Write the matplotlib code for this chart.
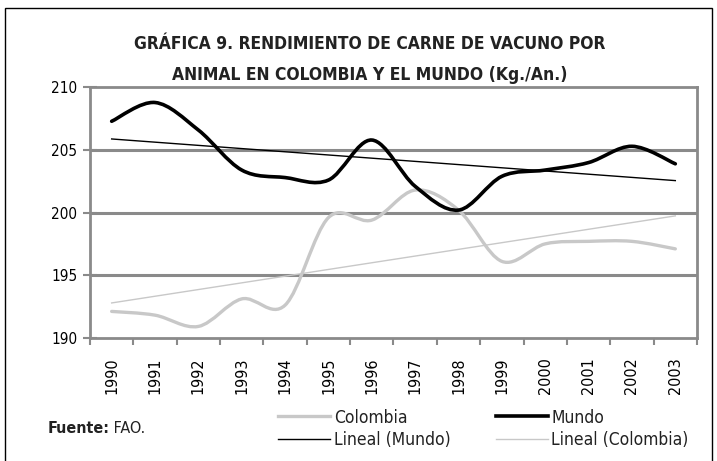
import numpy as np
import matplotlib
matplotlib.use('Agg')
import matplotlib.pyplot as plt
from matplotlib.path import Path
from matplotlib.patches import PathPatch, Rectangle
from matplotlib.lines import Line2D

years = ['1990', '1991', '1992', '1993', '1994', '1995', '1996',
         '1997', '1998', '1999', '2000', '2001', '2002', '2003']
mundo = [207.3, 208.8, 206.6, 203.4, 202.8, 202.6, 205.8,
         202.1, 200.2, 202.9, 203.4, 204.0, 205.3, 203.9]
colombia = [192.1, 191.8, 190.9, 193.1, 192.6, 199.6, 199.4,
            201.8, 200.2, 196.1, 197.5, 197.7, 197.7, 197.1]

plt.rcParams['font.family'] = ['Liberation Sans Narrow', 'DejaVu Sans']
plt.rcParams['font.stretch'] = 'condensed'
plt.rcParams['text.color'] = '#222222'


def smooth_path(x, y):
    # excel-like smoothed line: catmull-rom segments as cubic beziers
    x = np.asarray(x, float)
    y = np.asarray(y, float)
    verts = [(x[0], y[0])]
    codes = [Path.MOVETO]
    n = len(x)
    for i in range(n - 1):
        p0 = (x[max(i - 1, 0)], y[max(i - 1, 0)])
        p1 = (x[i], y[i])
        p2 = (x[i + 1], y[i + 1])
        p3 = (x[min(i + 2, n - 1)], y[min(i + 2, n - 1)])
        t = 1 / 6
        c1 = (p1[0] + (p2[0] - p0[0]) * t, p1[1] + (p2[1] - p0[1]) * t)
        c2 = (p2[0] - (p3[0] - p1[0]) * t, p2[1] - (p3[1] - p1[1]) * t)
        verts += [c1, c2, p2]
        codes += [Path.CURVE4] * 3
    return Path(verts, codes)


fig = plt.figure(figsize=(7.17, 4.61), dpi=100)
ax = fig.add_axes([0.1255, 0.2675, 0.8466, 0.5427])

x = np.arange(len(years))
grid_c = '#8a8a8a'
col_c = '#c8c8c8'

for v in [195, 200, 205]:
    ax.axhline(v, color=grid_c, lw=2.2, zorder=1)

# trend lines
pm = np.polyfit(x, mundo, 1)
pc = np.polyfit(x, colombia, 1)
ax.plot([x[0], x[-1]], np.polyval(pc, [x[0], x[-1]]), color=col_c, lw=1.0, zorder=2)
ax.plot([x[0], x[-1]], np.polyval(pm, [x[0], x[-1]]), color='black', lw=1.0, zorder=3)

ax.add_patch(PathPatch(smooth_path(x, colombia), fill=False, edgecolor=col_c, lw=2.4,
                       zorder=3, capstyle='round'))
ax.add_patch(PathPatch(smooth_path(x, mundo), fill=False, edgecolor='black', lw=2.6,
                       zorder=4, capstyle='round'))

ax.set_xlim(-0.5, len(years) - 0.5)
ax.set_ylim(190, 210)
ax.set_yticks([190, 195, 200, 205, 210])
ax.set_yticklabels(['190', '195', '200', '205', '210'], fontsize=11)
ax.set_xticks(x)
ax.set_xticklabels(years, rotation=90, fontsize=11.5)
ax.set_xticks(np.arange(-0.5, len(years)), minor=True)
ax.tick_params(axis='x', which='major', length=0, pad=14)
ax.tick_params(axis='x', which='minor', length=5, width=1.5, color=grid_c)
ax.tick_params(axis='y', direction='inout', length=10, width=1.5, color=grid_c, pad=4)
for s in ax.spines.values():
    s.set_color(grid_c)
    s.set_linewidth(2)

fig.text(0.516, 0.905, 'GRÁFICA 9. RENDIMIENTO DE CARNE DE VACUNO POR',
         ha='center', va='center', fontsize=12.5, fontweight='bold')
fig.text(0.516, 0.838, 'ANIMAL EN COLOMBIA Y EL MUNDO (Kg./An.)',
         ha='center', va='center', fontsize=12.5, fontweight='bold')

src = fig.text(0.066, 0.07, 'Fuente:', fontsize=11.5, fontweight='bold', va='center')
ax.annotate(' FAO.', xy=(1, 0.5), xycoords=src, va='center', ha='left',
            fontsize=11.5, annotation_clip=False)

handles = [Line2D([], [], color=col_c, lw=2.4),
           Line2D([], [], color='black', lw=1.0),
           Line2D([], [], color='black', lw=2.6),
           Line2D([], [], color=col_c, lw=1.0)]
labels = ['Colombia', 'Lineal (Mundo)', 'Mundo', 'Lineal (Colombia)']
fig.legend(handles, labels, ncol=2, loc='center', bbox_to_anchor=(0.674, 0.07),
           frameon=False, fontsize=12.5, handlelength=3.0, handletextpad=0.2,
           columnspacing=2.6, labelspacing=0.25, borderpad=0)

fig.add_artist(Rectangle((0.007, -0.01), 0.986, 0.993, transform=fig.transFigure,
                         fill=False, edgecolor='black', lw=1.0))

fig.savefig('out.png', dpi=100)
